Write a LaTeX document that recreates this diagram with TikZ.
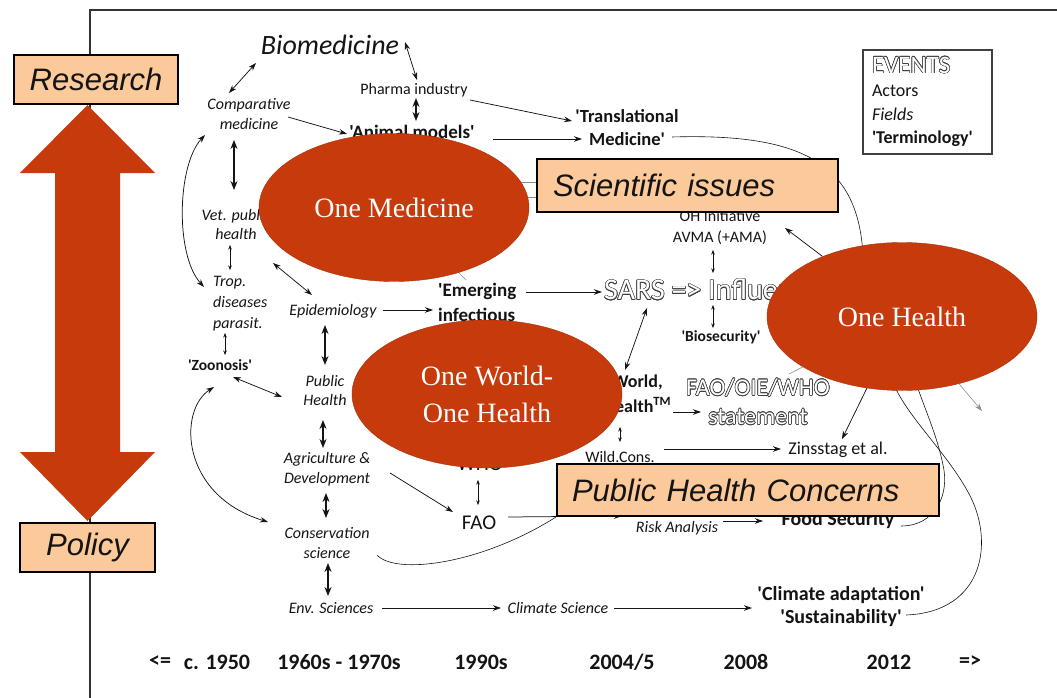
\documentclass[tikz,border=0pt]{standalone}
\usepackage{fontspec}
\setmainfont{Carlito}[Ligatures=TeXOff]
\newfontfamily\arialf{Liberation Sans}
\newfontfamily\serf{Liberation Serif}
\usepackage{contour}
\contourlength{0.6pt}
\contournumber{16}
\usetikzlibrary{arrows.meta,calc,shapes.geometric}
\pgfdeclarelayer{ell}
\pgfdeclarelayer{top}
\pgfsetlayers{main,ell,top}
\definecolor{ored}{RGB}{199,58,12}
\definecolor{peach}{RGB}{251,201,154}
\definecolor{ink}{RGB}{20,20,20}
\newcommand\fz[2]{\fontsize{#1}{#2}\selectfont}
\newcommand\outl[1]{\contour{black!75}{\textcolor{white}{#1}}}
\tikzset{
  lab/.style={inner sep=1pt, align=center, text=ink},
  fld/.style={lab, font=\itshape\fz{16}{20}},
  act/.style={lab, font=\fz{16}{21}},
  trm/.style={lab, font=\bfseries\fz{19}{24}},
  tl/.style={lab, font=\bfseries\fz{22}{24}},
  conn/.style={draw=ink, line width=0.75pt},
  faint/.style={draw=black!45, line width=0.6pt},
  arr/.style={conn, -{Stealth[length=8pt,width=5.5pt]}},
  darr/.style={conn, {Stealth[length=8pt,width=5.5pt]}-{Stealth[length=8pt,width=5.5pt]}},
  bdarr/.style={draw=ink, line width=1.4pt, {Stealth[length=9pt,width=7pt]}-{Stealth[length=9pt,width=7pt]}},
  sdarr/.style={draw=ink, line width=0.5pt, {Stealth[length=4.5pt,width=3.5pt]}-{Stealth[length=4.5pt,width=3.5pt]}},
  oval/.style={ellipse, fill=ored, draw=ored!85!black, line width=0.4pt, minimum width=270pt, minimum height=148pt, inner sep=0pt, text=white, font=\serf\fz{28}{37}, align=center},
  pbox/.style={rectangle, fill=peach, draw=black, line width=2pt, font=\arialf\itshape\fz{31}{34}, inner sep=0pt, text=ink},
}
\begin{document}
\begin{tikzpicture}[x=1pt,y=-1pt]
\useasboundingbox (0,0) rectangle (1057,698);
% frame
\draw[line width=1.5pt, draw=black!80] (90,698) -- (90,10) -- (1057,10);
% big double arrow
\fill[ored] (87.5,105) -- (155,173) -- (120,173) -- (120,452) -- (155,452) -- (87.5,521) -- (20,452) -- (55,452) -- (55,173) -- (20,173) -- cycle;
\node[pbox, minimum width=164pt, minimum height=49pt] (res) at (96,79.5) {Research};
\node[pbox, minimum width=135pt, minimum height=49pt] (pol) at (87.5,547.5) {Policy};

% ellipses and boxes on upper layers
\begin{pgfonlayer}{ell}
\node[oval] (oneMed) at (394,207.5) {One Medicine};
\node[oval] (oneW) at (487,394) {One World-\\One Health};
\node[oval] (oneH) at (902,316.5) {One Health};
\end{pgfonlayer}
\begin{pgfonlayer}{top}
\node[pbox, minimum width=301pt, minimum height=53pt, text width=269pt, inner xsep=16pt, align=left] (sci) at (687.5,185.5) {Scientific issues};
\node[pbox, minimum width=382pt, minimum height=52pt, text width=352pt, inner xsep=15pt, align=left] (phc) at (748,490) {Public Health Concerns};
\end{pgfonlayer}

% legend
\node[draw=black!75, line width=1.2pt, fill=white, minimum width=129pt, minimum height=104pt, text width=111pt, inner xsep=9pt, inner ysep=0pt, align=left, font=\fz{18}{23.5}, text=ink] (leg) at (927.5,102) {{\fz{25}{23.5}\outl{EVENTS}}\\Actors\\\textit{Fields}\\\textbf{'Terminology'}};

% text nodes
\node[fld, font=\itshape\fz{28}{30}] (bio) at (330,45) {Biomedicine};
\node[fld] (comp) at (249,114) {Comparative\\medicine};
\node[act] (pharma) at (414,90) {Pharma industry};
\node[trm] (animal) at (412,132) {'Animal models'};
\node[trm, font=\bfseries\fz{18.5}{23}] (trans) at (627,127.5) {'Translational\\Medicine'};
\node[fld, font=\itshape\fz{16}{19.5}] (vet) at (236,224.5) {Vet. public\\health};
\node[fld, font=\itshape\fz{16}{21}, anchor=west, align=left] (trop) at (212,304) {Trop.\\diseases\\parasit.};
\node[trm, font=\bfseries\fz{15.5}{18}] (zoo) at (220,365) {'Zoonosis'};
\node[fld] (epi) at (333,311) {Epidemiology};
\node[fld, font=\itshape\fz{16}{19.5}] (pubh) at (325,390.5) {Public\\Health};
\node[fld] (agri) at (327,469) {Agriculture \&\\Development};
\node[fld] (cons) at (327,543) {Conservation\\science};
\node[fld] (env) at (331,608) {Env. Sciences};
\node[fld] (clim) at (558,608) {Climate Science};
\node[trm, font=\bfseries\fz{20}{23.5}] (clad) at (841,606.5) {'Climate adaptation'\\'Sustainability'};
\node[trm, font=\bfseries\fz{19}{25}, anchor=west, align=left] (emerg) at (437,302.5) {'Emerging\\infectious};
\node[lab, font=\fz{30}{32}, anchor=west, inner sep=0pt] (sars) at (604,290) {\outl{SARS => Influenza}};
\node[act] (ohi) at (720,227.5) {OH Initiative\\AVMA (+AMA)};
\node[trm, font=\bfseries\fz{15.5}{18}] (bios) at (721,337) {'Biosecurity'};
\node[trm, font=\bfseries\fz{18}{25}] (owoh) at (620,393.5) {One World,\\One Health\textsuperscript{TM}};
\node[lab, font=\fz{24}{29}] (fow) at (758,402) {\outl{FAO/OIE/WHO}\\\outl{statement}};
\node[act] (wild) at (620,457) {Wild.Cons.};
\node[act, font=\fz{18}{20}] (zins) at (838,450) {Zinsstag et al.};
\node[act, font=\fz{21}{23}] (who) at (480,464) {WHO};
\node[act, font=\fz{21}{23}] (fao) at (479,523) {FAO};
\node[fld] (risk) at (677,528) {Risk Analysis};
\node[trm, font=\bfseries\fz{20}{22}] (food) at (838,520) {Food Security};

% timeline
\node[tl] (t0) at (160,662) {<=};
\node[tl] (t1) at (217,662) {c. 1950};
\node[tl] (t2) at (339,662) {1960s - 1970s};
\node[tl] (t3) at (481,662) {1990s};
\node[tl] (t4) at (622,662) {2004/5};
\node[tl] (t5) at (746,662) {2008};
\node[tl] (t6) at (889,662) {2012};
\node[tl] (t7) at (970,662) {=>};

% free ends inside / beside ellipses
\coordinate (ohA) at (863,255);
\coordinate (ohB) at (892,380);
\coordinate (ohC) at (915,380);
\coordinate (ohR) at (982,411);

% connectors
\draw[darr] ($(bio)+(-74,18)$) -- ($(comp)+(-20,-21)$);
\draw[darr] ($(bio)+(75,-3)$) -- ($(pharma)+(3,-10)$);
\draw[bdarr] ($(pharma)+(2,8)$) -- ($(animal)+(4,-11)$);
\draw[arr] ($(comp)+(39,3)$) -- ($(animal)+(-65,2)$);
\draw[arr] ($(pharma)+(56,10)$) -- ($(trans)+(-55,-6.5)$);
\draw[arr] ($(animal)+(81,7)$) -- ($(trans)+(-45,11.5)$);
\draw[conn, line width=0.6pt] ($(trans)+(45,9.5)$) .. controls (805,133) and (858,165) .. (ohA);
\draw[bdarr] ($(comp)+(-15,26)$) -- ($(vet)+(-2,-34.5)$);
\draw[sdarr] ($(vet)+(-6,20.5)$) -- ($(trop.west)+(18,-34)$);
\draw[sdarr] ($(trop.west)+(13,29)$) -- ($(zoo)+(5,-10)$);
\draw[darr] ($(comp)+(-44,21)$) .. controls (177,165) and (175,255) .. ($(trop.west)+(-8,-17)$);
\draw[darr] ($(zoo)+(13,12)$) -- ($(pubh)+(-43,6.5)$);
\draw[darr] ($(zoo)+(-6,22)$) .. controls (178,410) and (180,495) .. ($(cons)+(-59,-21)$);
\draw[darr] ($(vet)+(37,38.5)$) -- ($(epi)+(-21,-16)$);
\draw[arr] ($(epi)+(50,-1)$) -- ($(emerg.west)+(-4,7.5)$);
\draw[bdarr] ($(epi)+(-8,14)$) -- ($(pubh)+(0,-25.5)$);
\draw[bdarr] ($(pubh)+(-2,29.5)$) -- ($(agri)+(-4,-21)$);
\draw[bdarr] ($(agri)+(-1,24)$) -- ($(cons)+(-1,-25)$);
\draw[bdarr] ($(cons)+(1,20)$) -- ($(env)+(-3,-12)$);
\draw[arr] ($(env)+(51,0)$) -- ($(clim)+(-57,0)$);
\draw[arr] ($(clim)+(56,0)$) -- ($(clad)+(-89,1.5)$);
\draw[arr] ($(agri)+(63,4)$) -- ($(fao)+(-26,-11)$);
\draw[sdarr] ($(who)+(-2,16)$) -- ($(fao)+(-1,-18)$);
\draw[arr] ($(fao)+(29,-6)$) -- ($(risk)+(-55,-12)$);
\draw[arr] ($(risk)+(46,-7)$) -- ($(food)+(-75,1)$);
\draw[conn, line width=0.6pt] ($(cons)+(50,12)$) .. controls (395,575) and (480,565) .. (phc.south west);
\draw[arr] ($(emerg.west)+(89,-10.5)$) -- ($(sars.west)+(-2,2)$);
\draw[darr] ($(sars.west)+(43,18)$) -- ($(owoh)+(5,-23.5)$);
\draw[sdarr] ($(ohi)+(-7,22.5)$) -- ($(sars.west)+(109,-17)$);
\draw[sdarr] ($(sars.west)+(109,15)$) -- ($(bios)+(-8,-9)$);
\draw[arr] ($(owoh)+(53,18.5)$) -- ($(fow)+(-57,10)$);
\draw[sdarr] ($(owoh)+(0,33.5)$) -- ($(wild)+(0,-15)$);
\draw[arr] ($(wild)+(44,-8)$) -- ($(zins)+(-57,-1)$);
\draw[arr] (oneH) -- ($(ohi)+(65,0.5)$);
\draw[arr] (oneH) -- ($(zins)+(4,-11)$);
\draw[faint, -{Stealth[length=8pt,width=5.5pt]}] (oneH) -- (ohR);
\draw[faint] ($(fow)+(31,-28)$) -- (oneH);
\draw[conn, line width=0.6pt] ($(clad)+(65,8.5)$) .. controls (985,612) and (995,540) .. (968,492) .. controls (945,450) and (905,415) .. (ohB);
\draw[conn, line width=0.6pt] ($(food)+(63,6)$) .. controls (935,526) and (950,495) .. (943,465) .. controls (937,435) and (925,410) .. (ohC);
\draw[faint] (oneMed) -- ($(emerg.west)+(29,-22.5)$);
\draw[faint] ($(sci.west)+(-25,-3.5)$) -- ($(sci.west)+(0,-3.5)$);
\draw[faint] ($(sci.west)+(-25,12)$) -- ($(sci.west)+(0,12)$);
\end{tikzpicture}
\end{document}
